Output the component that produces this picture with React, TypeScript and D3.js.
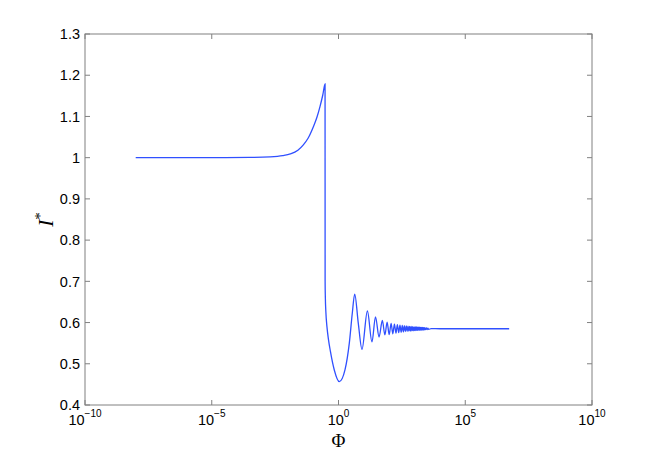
import React from 'react';
import * as d3 from 'd3';

// values (Φ on a log axis, I* linear)
const phi = [
  1e-8, 1e-5, 3.2e-4, 2e-3, 6.3e-3, 1.26e-2, 2.5e-2, 4.1e-2, 6.3e-2, 0.102, 0.141, 0.186, 0.24, 0.295,
  0.2965, 0.303, 0.318, 0.35, 0.40, 0.48, 0.682, 1.077, 1.8, 2.67, 3.5, 4.36, 6.04, 8.45,
  13.8, 20.9, 28.8, 39.8, 53.7, 67.6, 82.8, 100, 119, 139, 161, 185, 210, 237, 266, 296,
  328, 361, 396, 433, 471, 511, 552, 595, 640, 686, 734, 784, 835, 888, 942, 999,
  1056, 1116, 1176, 1239, 1303, 1369, 1444, 1521, 1600, 1681, 1764, 1849, 1936, 2025,
  2116, 2209, 2304, 2401, 2500, 2704, 2916, 3136, 3364, 3600, 4500, 1e4, 1e5, 1e6, 5.4e6,
];
const iStar = [
  1.0, 1.0, 1.0005, 1.002, 1.005, 1.009, 1.018, 1.031, 1.047, 1.075, 1.098, 1.124, 1.152, 1.179,
  0.7, 0.66, 0.625, 0.59, 0.56, 0.53, 0.485, 0.4566, 0.485, 0.55, 0.6226, 0.669, 0.598, 0.535,
  0.628, 0.553, 0.614, 0.565, 0.605, 0.57, 0.601, 0.5705, 0.598, 0.5727, 0.5964, 0.5743, 0.595, 0.5756, 0.5939, 0.5766,
  0.593, 0.5774, 0.5923, 0.578, 0.5917, 0.5786, 0.5912, 0.579, 0.5907, 0.5795, 0.5904, 0.5798, 0.59, 0.58, 0.5897, 0.5804,
  0.5895, 0.5806, 0.5892, 0.5809, 0.589, 0.5811, 0.5888, 0.5813, 0.5886, 0.5815, 0.5884, 0.5817, 0.5882, 0.5819,
  0.588, 0.582, 0.5877, 0.5823, 0.5874, 0.5827, 0.587, 0.583, 0.5866, 0.5835, 0.5852, 0.585, 0.585, 0.585, 0.585,
];

const xTickExp = [-10, -5, 0, 5, 10];
const yTicks = [0.4, 0.5, 0.6, 0.7, 0.8, 0.9, 1, 1.1, 1.2, 1.3];

const W = 654;
const H = 456;
const margin = { left: 85, right: 62, top: 34, bottom: 51 };

export default function App() {
  const x = d3.scaleLog().domain([1e-10, 1e10]).range([margin.left, W - margin.right]);
  const y = d3.scaleLinear().domain([0.4, 1.3]).range([H - margin.bottom, margin.top]);

  const pts: [number, number][] = phi.map((p, i) => [p, iStar[i]]);
  const path = d3
    .line<[number, number]>()
    .x(d => x(d[0]))
    .y(d => y(d[1]))
    .curve(d3.curveMonotoneX)(pts);

  const x0 = margin.left;
  const x1 = W - margin.right;
  const y0 = H - margin.bottom;
  const y1 = margin.top;
  const tick = 5;
  const axisColor = '#808080';
  const sans = "'Liberation Sans', Arial, sans-serif";
  const serif = "'Liberation Serif', 'Times New Roman', serif";

  return (
    <svg width={W} height={H} style={{ position: 'absolute', left: 0, top: 0, background: '#fff' }}>
      <rect x={0} y={0} width={W} height={H} fill="#fff" />
      <path d={path || ''} fill="none" stroke="#3050ff" strokeWidth={1.3} />

      {/* box */}
      <rect x={x0} y={y1} width={x1 - x0} height={y0 - y1} fill="none" stroke={axisColor} strokeWidth={1} />

      {/* x ticks */}
      {xTickExp.map(e => {
        const px = x(Math.pow(10, e));
        return (
          <g key={'x' + e}>
            <line x1={px} x2={px} y1={y0} y2={y0 - tick} stroke={axisColor} />
            <line x1={px} x2={px} y1={y1} y2={y1 + tick} stroke={axisColor} />
            <text x={px} y={425} textAnchor="middle" fontFamily={sans} fontSize={14.5} fill="#000">
              10
              <tspan dy={-8} fontSize={10}>{e < 0 ? '\u2212' + Math.abs(e) : String(e)}</tspan>
            </text>
          </g>
        );
      })}

      {/* y ticks */}
      {yTicks.map(t => {
        const py = y(t);
        return (
          <g key={'y' + t}>
            <line x1={x0} x2={x0 + tick} y1={py} y2={py} stroke={axisColor} />
            <line x1={x1} x2={x1 - tick} y1={py} y2={py} stroke={axisColor} />
            <text x={80} y={py} dy="0.36em" textAnchor="end" fontFamily={sans} fontSize={14.5} fill="#000">
              {String(t)}
            </text>
          </g>
        );
      })}

      {/* axis labels */}
      <text x={(x0 + x1) / 2} y={447} textAnchor="middle" fontFamily={serif} fontSize={19} fill="#000">
        {'\u03A6'}
      </text>
      <text
        transform={`translate(53,${(y0 + y1) / 2}) rotate(-90)`}
        textAnchor="middle"
        fontFamily={serif}
        fontSize={21}
        fill="#000"
      >
        <tspan fontStyle="italic">I</tspan>
        <tspan dy={-8} fontSize={15}>*</tspan>
      </text>
    </svg>
  );
}
